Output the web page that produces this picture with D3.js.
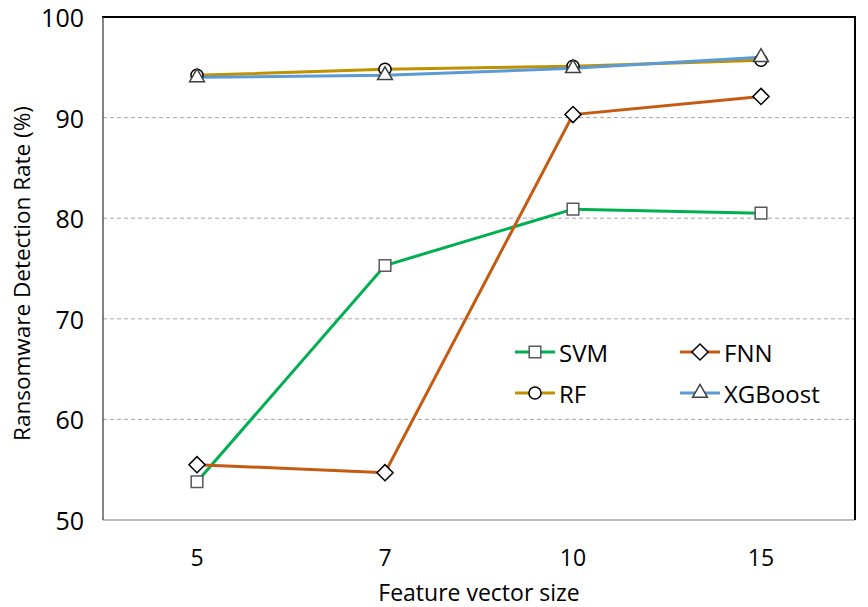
<!DOCTYPE html>
<html>
<head>
<meta charset="utf-8">
<script src="https://cdn.jsdelivr.net/npm/d3@7"></script>
<style>
  body { margin: 0; background: #fff; }
  text { font-family: "Open Sans", "Noto Sans", sans-serif; fill: #000; }
</style>
</head>
<body>
<svg id="chart" width="868" height="607"></svg>
<script>
var categories = ["5", "7", "10", "15"];
var svmValues = [53.8, 75.3, 80.9, 80.5];
var fnnValues = [55.5, 54.7, 90.3, 92.1];
var rfValues = [94.2, 94.8, 95.1, 95.7];
var xgbValues = [94.0, 94.2, 94.9, 96.0];
var yTicks = [50, 60, 70, 80, 90, 100];

var series = [
    { name: "SVM", values: svmValues, color: "#00B050", marker: "square" },
    { name: "FNN", values: fnnValues, color: "#C55A11", marker: "diamond" },
    { name: "RF", values: rfValues, color: "#BF9000", marker: "circle" },
    { name: "XGBoost", values: xgbValues, color: "#5B9BD5", marker: "triangle" }
];

var margin = { left: 103, top: 17, right: 13, bottom: 87 };
var width = 868, height = 607;
var svg = d3.select("#chart");

var x = d3.scalePoint().domain(categories)
    .range([margin.left, width - margin.right]).padding(0.5);
var y = d3.scaleLinear().domain([50, 100])
    .range([height - margin.bottom, margin.top]);

// gridlines
svg.append("g")
    .selectAll("line")
    .data(yTicks.filter(d => d > 50 && d < 100))
    .join("line")
    .attr("x1", margin.left).attr("x2", width - margin.right)
    .attr("y1", d => y(d)).attr("y2", d => y(d))
    .attr("stroke", "#A6A6A6").attr("stroke-width", 1)
    .attr("stroke-dasharray", "4,3");

// frame
var x0 = margin.left, x1 = width - margin.right, y0 = y(100), y1 = y(50);
svg.append("line").attr("x1", x0).attr("x2", x1).attr("y1", y1).attr("y2", y1)
    .attr("stroke", "#A6A6A6").attr("stroke-width", 1.5);
svg.append("line").attr("x1", x0 - 1).attr("x2", x1 + 1).attr("y1", y0).attr("y2", y0)
    .attr("stroke", "#000").attr("stroke-width", 2);
svg.append("line").attr("x1", x1).attr("x2", x1).attr("y1", y0).attr("y2", y1)
    .attr("stroke", "#000").attr("stroke-width", 2);
svg.append("line").attr("x1", x0).attr("x2", x0).attr("y1", y0).attr("y2", y1)
    .attr("stroke", "#333").attr("stroke-width", 1.2);

// y tick labels
svg.append("g")
    .selectAll("text")
    .data(yTicks)
    .join("text")
    .attr("x", 84).attr("y", d => y(d))
    .attr("text-anchor", "end").attr("dominant-baseline", "central")
    .attr("font-size", "25px")
    .text(d => d);

// x tick labels
svg.append("g")
    .selectAll("text")
    .data(categories)
    .join("text")
    .attr("x", d => x(d)).attr("y", 557)
    .attr("text-anchor", "middle").attr("dominant-baseline", "central")
    .attr("font-size", "23px")
    .text(d => d);

svg.append("text")
    .attr("x", (x0 + x1) / 2).attr("y", 592)
    .attr("text-anchor", "middle").attr("dominant-baseline", "central")
    .attr("font-size", "23px")
    .text("Feature vector size");

svg.append("text")
    .attr("transform", "translate(21," + ((y0 + y1) / 2 + 5) + ") rotate(-90)")
    .attr("text-anchor", "middle").attr("dominant-baseline", "central")
    .attr("font-size", "22.5px")
    .text("Ransomware Detection Rate (%)");

var symbolFor = {
    square: d3.symbol().type(d3.symbolSquare).size(135),
    diamond: d3.symbol().type(d3.symbolSquare).size(130),
    circle: d3.symbol().type(d3.symbolCircle).size(115),
    triangle: d3.symbol().type(d3.symbolTriangle).size(95)
};
var markerRotate = { square: 0, diamond: 45, circle: 0, triangle: 0 };
var markerStroke = { square: "#595959", diamond: "#000", circle: "#000", triangle: "#404040" };

var line = d3.line().x((d, i) => x(categories[i])).y(d => y(d));

// lines
svg.append("g")
    .selectAll("path")
    .data(series)
    .join("path")
    .attr("d", d => line(d.values))
    .attr("fill", "none")
    .attr("stroke", d => d.color)
    .attr("stroke-width", 3);

// markers on top
series.forEach(function (s) {
    svg.append("g")
        .selectAll("path")
        .data(s.values)
        .join("path")
        .attr("transform", (d, i) => "translate(" + x(categories[i]) + "," + y(d) + ") rotate(" + markerRotate[s.marker] + ")")
        .attr("d", symbolFor[s.marker])
        .attr("fill", "#fff")
        .attr("stroke", markerStroke[s.marker])
        .attr("stroke-width", 1.5);
});

// legend
var legendPos = [[515, 352], [680, 352], [515, 393], [680, 393]];
var legend = svg.append("g")
    .selectAll("g")
    .data(series)
    .join("g")
    .attr("transform", (d, i) => "translate(" + legendPos[i][0] + "," + legendPos[i][1] + ")");
legend.append("line")
    .attr("x1", 0).attr("x2", 40)
    .attr("stroke", d => d.color).attr("stroke-width", 3);
legend.append("path")
    .attr("transform", d => "translate(20,0) rotate(" + markerRotate[d.marker] + ")")
    .attr("d", d => symbolFor[d.marker]())
    .attr("fill", "#fff")
    .attr("stroke", d => markerStroke[d.marker])
    .attr("stroke-width", 1.5);
legend.append("text")
    .attr("x", 44).attr("dominant-baseline", "central")
    .attr("font-size", "24px")
    .text(d => d.name);
</script>
</body>
</html>
